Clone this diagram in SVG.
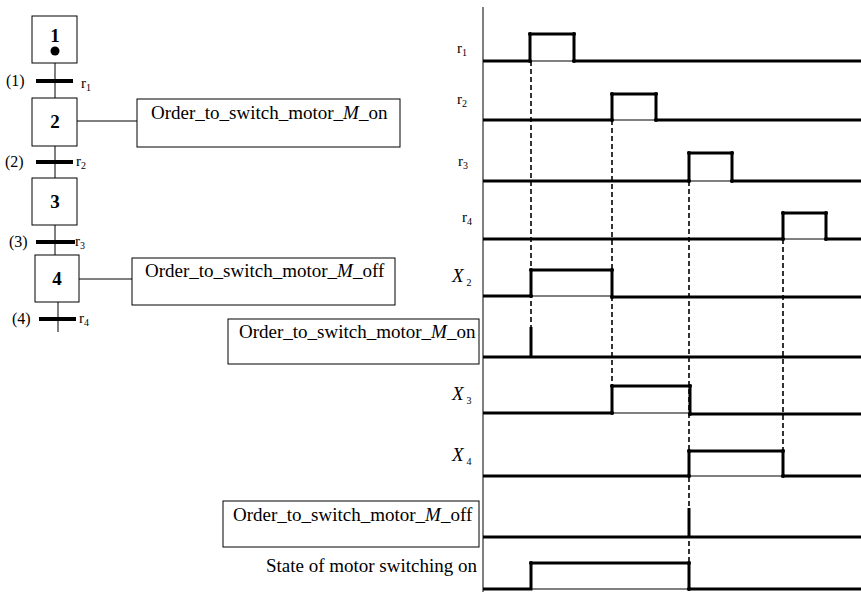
<svg xmlns="http://www.w3.org/2000/svg" width="861" height="592" viewBox="0 0 861 592">
<style>
text{font-family:"Liberation Serif","Times New Roman",serif;fill:#000}
.box{fill:#fff;stroke:#000;stroke-width:1}
.ln{stroke:#000;stroke-width:1;fill:none}
.bar{stroke:#000;stroke-width:4;fill:none}
.sig{stroke:#000;stroke-width:3;fill:none;stroke-linejoin:miter}
.thin{stroke:#000;stroke-width:1;fill:none}
.dash{stroke:#000;stroke-width:1.6;stroke-dasharray:5,3;fill:none}
.step{font-size:19px;font-weight:bold;text-anchor:middle}
.act{font-size:19px}
.tl{font-size:16px}
.lab{font-size:15px}
.sub{font-size:10px}
.xl{font-size:19px;font-style:italic}
</style>
<defs>
<circle id="dt" r="2" fill="#000"/>
</defs>
<g id="connectors">
<line class="ln" x1="55" y1="63" x2="55" y2="98"/>
<line class="ln" x1="55" y1="146" x2="55" y2="178"/>
<line class="ln" x1="55" y1="225" x2="55" y2="255"/>
<line class="ln" x1="58" y1="302" x2="58" y2="332"/>
<line class="ln" x1="77" y1="121" x2="137" y2="121"/>
<line class="ln" x1="79" y1="279" x2="132" y2="279"/>
</g>
<g id="step1"><rect class="box" x="32" y="16" width="45" height="47"/><text class="step" x="55" y="42">1</text><circle cx="55" cy="51" r="4.5" fill="#000"/></g>
<g id="step2"><rect class="box" x="32" y="98" width="45" height="48"/><text class="step" x="55" y="128">2</text></g>
<g id="step3"><rect class="box" x="32" y="178" width="45" height="47"/><text class="step" x="55" y="208">3</text></g>
<g id="step4"><rect class="box" x="35" y="255" width="44" height="47"/><text class="step" x="57" y="285">4</text></g>
<g id="t1"><line class="bar" x1="36" y1="81" x2="73" y2="81"/><text class="tl" x="6" y="86">(1)</text><text class="lab" x="81" y="88">r<tspan class="sub" dy="3">1</tspan></text></g>
<g id="t2"><line class="bar" x1="36" y1="162" x2="73" y2="162"/><text class="tl" x="5" y="167">(2)</text><text class="lab" x="76" y="166">r<tspan class="sub" dy="3">2</tspan></text></g>
<g id="t3"><line class="bar" x1="36" y1="242" x2="75" y2="242"/><text class="tl" x="9" y="247">(3)</text><text class="lab" x="75" y="246">r<tspan class="sub" dy="3">3</tspan></text></g>
<g id="t4"><line class="bar" x1="39" y1="319" x2="76" y2="319"/><text class="tl" x="12" y="324">(4)</text><text class="lab" x="79" y="323">r<tspan class="sub" dy="3">4</tspan></text></g>
<g id="action1"><rect class="box" x="137" y="99" width="263" height="48"/><text class="act" x="151" y="119">Order_to_switch_motor_<tspan font-style="italic">M</tspan>_on</text></g>
<g id="action2"><rect class="box" x="132" y="258" width="263" height="47"/><text class="act" x="145" y="277">Order_to_switch_motor_<tspan font-style="italic">M</tspan>_off</text></g>

<g id="timing">
<line class="ln" x1="483" y1="7" x2="483" y2="592"/>
<text class="lab" x="457" y="53">r<tspan class="sub" dy="3">1</tspan></text>
<text class="lab" x="457" y="104">r<tspan class="sub" dy="3">2</tspan></text>
<text class="lab" x="458" y="166">r<tspan class="sub" dy="3">3</tspan></text>
<text class="lab" x="462" y="222">r<tspan class="sub" dy="3">4</tspan></text>
<text class="xl" x="452" y="282">X<tspan class="sub" font-style="normal" dx="3" dy="4">2</tspan></text>
<text class="xl" x="452" y="400">X<tspan class="sub" font-style="normal" dx="3" dy="4">3</tspan></text>
<text class="xl" x="452" y="461">X<tspan class="sub" font-style="normal" dx="3" dy="4">4</tspan></text>
<g id="lab_on"><rect class="box" x="228" y="319" width="251" height="45"/><text class="act" x="239" y="338">Order_to_switch_motor_<tspan font-style="italic">M</tspan>_on</text></g>
<g id="lab_off"><rect class="box" x="223" y="501" width="256" height="46"/><text class="act" x="233" y="521">Order_to_switch_motor_<tspan font-style="italic">M</tspan>_off</text></g>
<text class="act" x="477" y="572" text-anchor="end">State of motor switching on</text>

<line class="dash" x1="531" y1="61" x2="531" y2="327"/>
<line class="dash" x1="612" y1="120" x2="612" y2="386"/>
<line class="dash" x1="689" y1="181" x2="689" y2="562"/>
<line class="dash" x1="783" y1="239" x2="783" y2="451"/>

<line class="thin" x1="530" y1="61" x2="574" y2="61"/>
<polyline class="sig" points="483,61 530,61 530,34 574,34 574,61 861,61"/>
<use href="#dt" x="530" y="34"/><use href="#dt" x="574" y="34"/><use href="#dt" x="530" y="61"/><use href="#dt" x="574" y="61"/>
<line class="thin" x1="612" y1="120" x2="656" y2="120"/>
<polyline class="sig" points="483,120 612,120 612,94 656,94 656,120 861,120"/>
<use href="#dt" x="612" y="94"/><use href="#dt" x="656" y="94"/><use href="#dt" x="612" y="120"/><use href="#dt" x="656" y="120"/>
<line class="thin" x1="689" y1="181" x2="732" y2="181"/>
<polyline class="sig" points="483,181 689,181 689,153 732,153 732,181 861,181"/>
<use href="#dt" x="689" y="153"/><use href="#dt" x="732" y="153"/><use href="#dt" x="689" y="181"/><use href="#dt" x="732" y="181"/>
<line class="thin" x1="783" y1="239" x2="826" y2="239"/>
<polyline class="sig" points="483,239 783,239 783,213 826,213 826,239 861,239"/>
<use href="#dt" x="783" y="213"/><use href="#dt" x="826" y="213"/><use href="#dt" x="783" y="239"/><use href="#dt" x="826" y="239"/>
<line class="thin" x1="531" y1="296" x2="612" y2="296"/>
<polyline class="sig" points="483,296 531,296 531,270 612,270 612,297 861,297"/>
<use href="#dt" x="531" y="270"/><use href="#dt" x="612" y="270"/><use href="#dt" x="531" y="296"/><use href="#dt" x="612" y="297"/>
<line class="sig" x1="483" y1="357" x2="861" y2="357"/>
<line class="sig" x1="531" y1="327" x2="531" y2="357"/>
<line class="thin" x1="612" y1="413" x2="690" y2="413"/>
<polyline class="sig" points="483,413 612,413 612,386 690,386 690,414 861,414"/>
<use href="#dt" x="612" y="386"/><use href="#dt" x="690" y="386"/><use href="#dt" x="612" y="413"/><use href="#dt" x="690" y="414"/>
<line class="thin" x1="689" y1="476" x2="783" y2="476"/>
<polyline class="sig" points="483,476 689,476 689,451 783,451 783,476 861,476"/>
<use href="#dt" x="689" y="451"/><use href="#dt" x="783" y="451"/><use href="#dt" x="689" y="476"/><use href="#dt" x="783" y="476"/>
<line class="sig" x1="483" y1="537" x2="861" y2="537"/>
<line class="sig" x1="689" y1="508" x2="689" y2="537"/>
<line class="thin" x1="531" y1="589" x2="689" y2="589"/>
<polyline class="sig" points="483,589 531,589 531,563 689,563 689,589 861,589"/>
<use href="#dt" x="531" y="563"/><use href="#dt" x="689" y="563"/><use href="#dt" x="689" y="589"/>
</g>
</svg>
